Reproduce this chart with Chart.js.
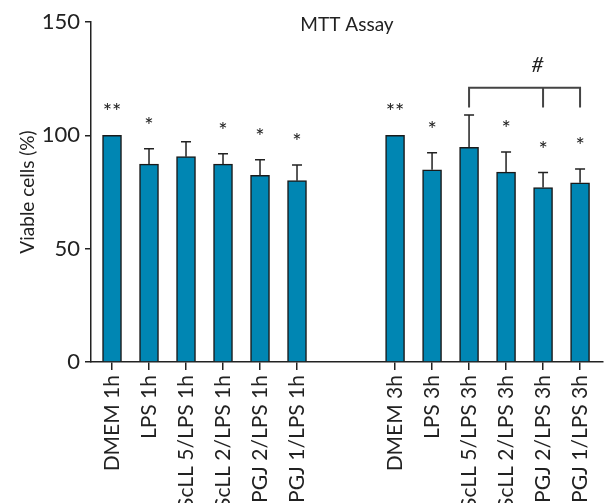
<!DOCTYPE html>
<html>
<head>
<meta charset="utf-8">
<script src="https://cdn.jsdelivr.net/npm/chart.js@4/dist/chart.umd.min.js"></script>
<style>
  html, body { margin: 0; padding: 0; background: #fff; }
  #wrap { width: 605px; height: 503px; }
</style>
</head>
<body>
<div id="wrap"><canvas id="chartCanvasId"></canvas></div>
<script>
"use strict";

// data
let labels1h  = ["DMEM 1h", "LPS 1h", "ScLL 5/LPS 1h", "ScLL 2/LPS 1h", "PGJ 2/LPS 1h", "PGJ 1/LPS 1h"]
let labels3h  = ["DMEM 3h", "LPS 3h", "ScLL 5/LPS 3h", "ScLL 2/LPS 3h", "PGJ 2/LPS 3h", "PGJ 1/LPS 3h"]
let means1h   = [100, 87.3, 90.6, 87.3, 82.3, 80.0]
let means3h   = [100, 84.8, 94.7, 83.8, 77.0, 79.1]
let sd1h      = [0, 6.8, 6.6, 4.6, 6.9, 6.9]
let sd3h      = [0, 7.5, 14.3, 8.9, 6.6, 6.0]
let marks1h   = ["**", "*", "", "*", "*", "*"]
let marks3h   = ["**", "*", "", "*", "*", "*"]
let yTicks    = [0, 50, 100, 150]
let chartTitle = "MTT Assay"
let yTitle     = "Viable cells (%)"

// second group sits a bit further than a plain gap
const groupOffset = 7.65
const textColor   = "#222"
const barColor    = "#0086b3"
const fontFamily  = "Lato, 'Liberation Sans', sans-serif"

let allLabels = labels1h.concat(labels3h)
let allMeans  = means1h.concat(means3h)
let allSd     = sd1h.concat(sd3h)
let allMarks  = marks1h.concat(marks3h)
let xPos      = allLabels.map((l, i) => i < labels1h.length ? i : groupOffset + i - labels1h.length)

let barData = allMeans.map((v, i) => ({ x: xPos[i], y: v }))

const annotations = {
    id: "annotations",
    afterDatasetsDraw(chart) {
        const ctx = chart.ctx
        const xs = chart.scales.x
        const ys = chart.scales.y
        const area = chart.chartArea
        ctx.save()

        // error bars (upper only)
        ctx.strokeStyle = textColor
        ctx.lineWidth = 1.5
        for (let i = 0; i < allMeans.length; i++) {
            if (!allSd[i]) continue
            const px = xs.getPixelForValue(xPos[i])
            const y0 = ys.getPixelForValue(allMeans[i])
            const y1 = ys.getPixelForValue(allMeans[i] + allSd[i])
            ctx.beginPath()
            ctx.moveTo(px, y0)
            ctx.lineTo(px, y1)
            ctx.moveTo(px - 5, y1)
            ctx.lineTo(px + 5, y1)
            ctx.stroke()
        }

        // significance stars
        ctx.fillStyle = textColor
        ctx.font = "22px " + fontFamily
        ctx.textAlign = "center"
        ctx.textBaseline = "alphabetic"
        for (let i = 0; i < allMarks.length; i++) {
            if (!allMarks[i]) continue
            const px = xs.getPixelForValue(xPos[i])
            const top = ys.getPixelForValue(allMeans[i] + allSd[i])
            ctx.fillText(allMarks[i], px, top - 16)
        }

        // bracket over the 3h group
        const b = [groupOffset + 2, groupOffset + 4, groupOffset + 5].map(v => xs.getPixelForValue(v))
        const yTop = ys.getPixelForValue(121)
        const yBot = ys.getPixelForValue(112.3)
        ctx.strokeStyle = "#444"
        ctx.lineWidth = 2
        ctx.beginPath()
        ctx.moveTo(b[0], yBot)
        ctx.lineTo(b[0], yTop)
        ctx.lineTo(b[2], yTop)
        ctx.lineTo(b[2], yBot)
        ctx.moveTo(b[1], yTop)
        ctx.lineTo(b[1], yBot)
        ctx.stroke()
        ctx.font = "italic 21px " + fontFamily
        ctx.textBaseline = "middle"
        ctx.fillText("#", xs.getPixelForValue(groupOffset + 3.85), ys.getPixelForValue(131))

        // title sits inside the plot area
        ctx.font = "19px " + fontFamily
        ctx.fillText(chartTitle, (area.left + area.right) / 2, 25)
        ctx.restore()
    }
}

let chartCanvas  = document.getElementById("chartCanvasId")
let chartContext = chartCanvas.getContext("2d")

let myChart = new Chart(chartContext, {
    type: "bar",
    data: {
        datasets: [{
            data: barData,
            backgroundColor: barColor,
            borderColor: "#1a1a1a",
            borderWidth: 1.5,
            borderSkipped: "bottom",
            barThickness: 19,
        }]
    },
    options: {
        animation: false,
        responsive: true,
        maintainAspectRatio: false,
        layout: { padding: { top: 22, right: 2, left: 0, bottom: 0 } },
        plugins: {
            legend: { display: false },
            tooltip: { enabled: false },
        },
        scales: {
            x: {
                type: "linear",
                min: -0.568,
                max: 13.27,
                offset: false,
                afterBuildTicks: (scale) => { scale.ticks = xPos.map(v => ({ value: v })) },
                afterFit: (scale) => {
                    scale.height = 141
                    scale.paddingLeft = 0
                    scale.paddingRight = 0
                },
                ticks: {
                    autoSkip: false,
                    minRotation: 90,
                    maxRotation: 90,
                    padding: 5,
                    color: textColor,
                    font: { family: fontFamily, size: 21 },
                    callback: (value, index) => allLabels[index],
                },
                grid: {
                    drawOnChartArea: false,
                    drawTicks: true,
                    tickLength: 8,
                    color: textColor,
                    lineWidth: 1.5,
                    offset: false,
                },
                border: { display: true, color: textColor, width: 1.5 },
            },
            y: {
                min: 0,
                max: 150,
                afterBuildTicks: (scale) => { scale.ticks = yTicks.map(v => ({ value: v })) },
                afterFit: (scale) => { scale.width = 91 },
                ticks: {
                    padding: 5,
                    color: textColor,
                    font: { family: fontFamily, size: 22 },
                },
                grid: {
                    drawOnChartArea: false,
                    drawTicks: true,
                    tickLength: 6,
                    color: textColor,
                    lineWidth: 1.5,
                },
                border: { display: true, color: textColor, width: 1.5 },
                title: {
                    display: true,
                    text: yTitle,
                    color: textColor,
                    font: { family: fontFamily, size: 19 },
                    padding: { top: 16, bottom: 0 },
                },
            },
        },
    },
    plugins: [annotations],
})
</script>
</body>
</html>
